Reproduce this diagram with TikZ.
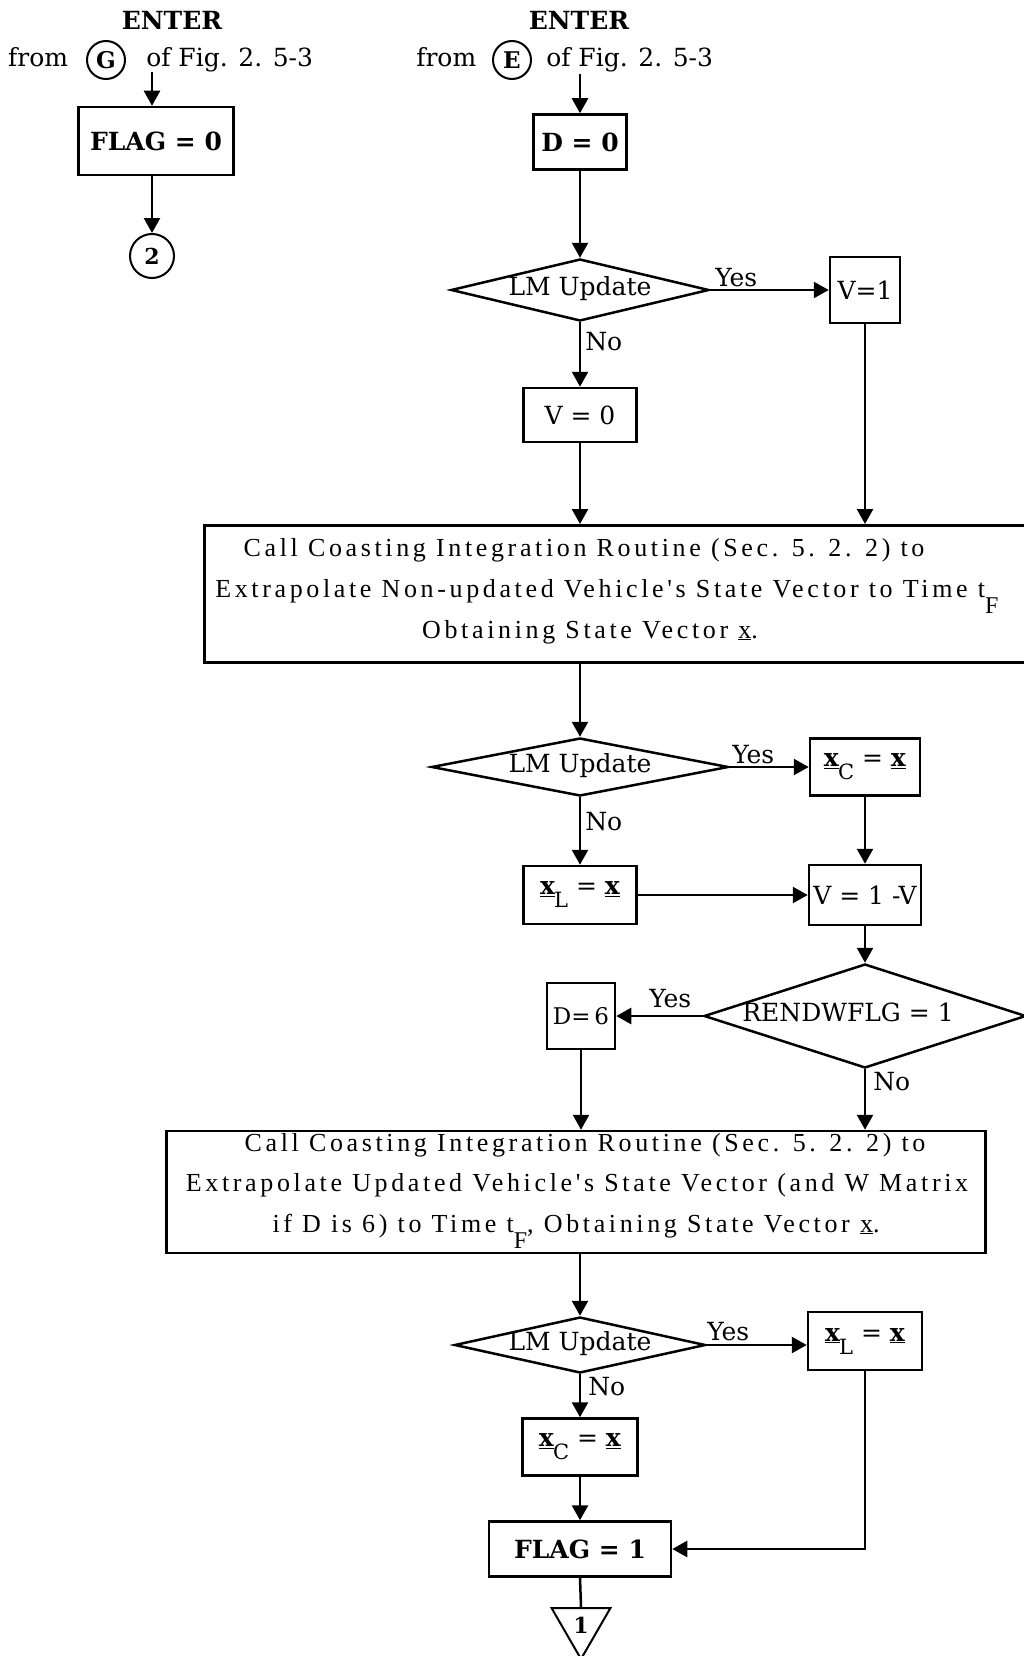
\documentclass[tikz,border=0pt]{standalone}
\usepackage{fontspec}
\setmainfont{DejaVu Serif}
\newfontfamily\boxfont[LetterSpace=14]{Liberation Serif}
\usetikzlibrary{shapes.geometric,arrows.meta}

% underlined vector x and a dropped subscript
\newcommand{\ulx}{\underline{\textbf{x}}}
\newcommand{\dropsub}[1]{\kern-1pt\raisebox{-13pt}{\fontsize{21}{21}\selectfont #1}}
\newcommand{\tsubF}{t\raisebox{-16pt}{\fontsize{24}{24}\selectfont F}}

\tikzset{
  box/.style={draw, rectangle, inner sep=0pt},
  dec/.style={draw, diamond, inner sep=0pt, text height=13pt, text depth=2pt},
  lbl/.style={inner sep=0pt, anchor=base west},
  flow/.style={-{Triangle[length=15pt,width=16pt]}},
  bigtext/.style={inner sep=0pt, anchor=base, font=\boxfont\fontsize{26}{41}\selectfont},
  conn/.style={draw, circle, inner sep=0pt, line width=2pt},
  bold/.style={font=\bfseries\fontsize{25}{30}\selectfont}
}

\begin{document}
\begin{tikzpicture}[x=1pt, y=-1pt, line width=2.5pt,
                    font=\fontsize{25}{30}\selectfont]
\useasboundingbox (0,0) rectangle (1024,1656);
\clip (0,0) rectangle (1024,1656);

% ---- entry G ----
\node[bold] (enterG) at (172,20) {ENTER};
\node[lbl] (fromG) at (7,67) {from};
\node[conn, minimum size=38pt, font=\bfseries\fontsize{23}{24}\selectfont] (circG) at (106,60) {G};
\node[lbl] (ofG) at (145,67) {of Fig. 2. 5-3};
\coordinate (inG) at (152,72);
\node[box, bold, minimum width=155pt, minimum height=68pt] (flag0) at (156,141) {FLAG = 0};
\node[conn, minimum size=44pt, font=\bfseries\fontsize{22}{24}\selectfont] (c2) at (152,256) {2};
\draw[flow] (inG) -- (inG |- flag0.north);
\draw[flow] (flag0.south -| c2) -- (c2.north);

% ---- entry E ----
\node[bold] (enterE) at (579,20) {ENTER};
\node[lbl] (fromE) at (415,67) {from};
\node[conn, minimum size=38pt, font=\bfseries\fontsize{23}{24}\selectfont] (circE) at (512,60) {E};
\node[lbl] (ofE) at (545,67) {of Fig. 2. 5-3};
\coordinate (inE) at (580,74);
\node[box, bold, minimum width=93pt, minimum height=55pt] (d0) at (580,142) {D = 0};
\draw[flow] (inE) -- (d0.north);

% ---- first LM test ----
\node[dec, shape aspect=4.2, minimum width=258pt, minimum height=62pt] (lm1) at (580,290) {LM Update};
\draw[flow] (d0.south) -- (lm1.north);
\node[box, minimum width=70pt, minimum height=66pt] (v1) at (865,290) {V=1};
\draw[flow] (lm1.east) -- (v1.west);
\node[lbl] (yes1) at (714,286) {Yes};
\node[box, minimum width=113pt, minimum height=54pt] (v0) at (580,415) {V = 0};
\draw[flow] (lm1.south) -- (v0.north);
\node[lbl] (no1) at (584,350) {No};

% ---- first integration call ----
\node[box, anchor=north west, minimum width=850pt, minimum height=137pt] (calc1) at (203,524) {};
\node[bigtext] (c1a) at (584,556) {Call Coasting Integration Routine (Sec. 5. 2. 2) to};
\node[bigtext, anchor=base west] (c1b) at (214,597) {Extrapolate Non-updated Vehicle's State Vector to Time \tsubF};
\node[bigtext] (c1c) at (590,638) {Obtaining State Vector \underline{x}.};
\draw[flow] (v0.south) -- (v0.south |- calc1.north);
\draw[flow] (v1.south) -- (v1.south |- calc1.north);

% ---- second LM test ----
\node[dec, shape aspect=5.1, minimum width=297pt, minimum height=58pt] (lm2) at (580,767) {LM Update};
\draw[flow] (calc1.south -| lm2) -- (lm2.north);
\node[box, minimum width=110pt, minimum height=57pt] (xc1) at (865,767) {\ulx\dropsub{C} = \ulx};
\draw[flow] (lm2.east) -- (xc1.west);
\node[lbl] (yes2) at (731,763) {Yes};
\node[box, minimum width=113pt, minimum height=58pt] (xl1) at (580,895) {\ulx\dropsub{L} = \ulx};
\draw[flow] (lm2.south) -- (xl1.north);
\node[lbl] (no2) at (584,830) {No};
\node[box, minimum width=112pt, minimum height=60pt] (vflip) at (865,895) {V = 1 -V};
\draw[flow] (xc1.south) -- (vflip.north);
\draw[flow] (xl1.east) -- (vflip.west);

% ---- RENDWFLG test ----
\node[dec, shape aspect=3.1, minimum width=322pt, minimum height=104pt] (rend) at (865,1016) {\hspace*{-34pt}RENDWFLG = 1};
\draw[flow] (vflip.south) -- (rend.north);
\node[box, minimum width=68pt, minimum height=66pt, font=\fontsize{23}{26}\selectfont] (d6) at (581,1016) {D=\,6};
\draw[flow] (rend.west) -- (d6.east);
\node[lbl] (yes3) at (648,1007) {Yes};
\node[lbl] (no3) at (872,1090) {No};

% ---- second integration call ----
\node[box, minimum width=819pt, minimum height=122pt] (calc2) at (576,1192) {};
\node[bigtext] (c2a) at (585,1151) {Call Coasting Integration Routine (Sec. 5. 2. 2) to};
\node[bigtext] (c2b) at (577,1191) {Extrapolate Updated Vehicle's State Vector (and W Matrix};
\node[bigtext] (c2c) at (576,1232) {if D is 6) to Time \tsubF, Obtaining State Vector \underline{x}.};
\draw[flow] (d6.south) -- (d6.south |- calc2.north);
\draw[flow] (rend.south) -- (rend.south |- calc2.north);

% ---- third LM test ----
\node[dec, shape aspect=4.5, minimum width=251pt, minimum height=56pt] (lm4) at (580,1345) {LM Update};
\draw[flow] (calc2.south -| lm4) -- (lm4.north);
\node[box, minimum width=114pt, minimum height=58pt] (xl2) at (865,1341) {\ulx\dropsub{L} = \ulx};
\draw[flow] (lm4.east) -- (lm4.east -| xl2.west);
\node[lbl] (yes4) at (706,1340) {Yes};
\node[box, minimum width=115pt, minimum height=57pt] (xc2) at (580,1447) {\ulx\dropsub{C} = \ulx};
\draw[flow] (lm4.south) -- (xc2.north);
\node[lbl] (no4) at (587,1395) {No};
\node[box, bold, minimum width=182pt, minimum height=55pt] (flag1) at (580,1549) {FLAG = 1};
\draw[flow] (xc2.south) -- (flag1.north);
\draw[flow] (xl2.south) |- (flag1.east);
\node[draw, regular polygon, regular polygon sides=3, shape border rotate=180,
      minimum size=68pt, inner sep=0pt, line width=2pt,
      font=\bfseries\fontsize{22}{24}\selectfont] (t1) at (581,1625) {1};
\draw (flag1.south) -- (t1.north);
\end{tikzpicture}
\end{document}
